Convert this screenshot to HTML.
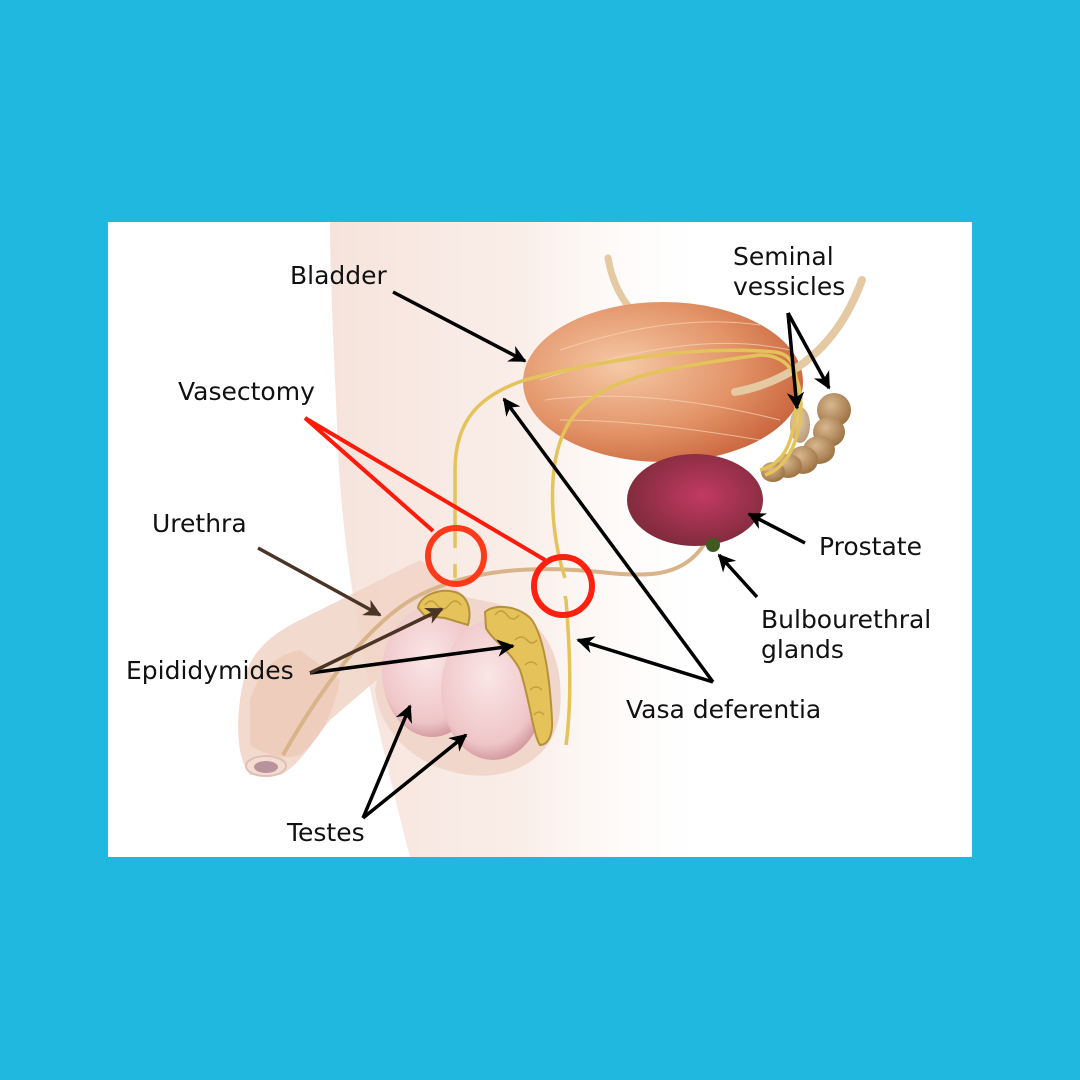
<!DOCTYPE html>
<html><head><meta charset="utf-8"><style>
html,body{margin:0;padding:0;background:#20b8df}
svg{display:block}
text{font-family:"DejaVu Sans","Liberation Sans",sans-serif;font-size:25px;fill:#111}
</style></head><body>
<svg width="1080" height="1080" viewBox="0 0 1080 1080" xmlns="http://www.w3.org/2000/svg">
<defs>
<linearGradient id="body" x1="0" x2="1" y1="0" y2="0">
<stop offset="0" stop-color="#f6e4dc"/><stop offset="0.5" stop-color="#faeee9"/><stop offset="1" stop-color="#ffffff" stop-opacity="0"/></linearGradient>
<radialGradient id="bl" cx="0.35" cy="0.4" r="0.75">
<stop offset="0" stop-color="#f5c9a6"/><stop offset="0.55" stop-color="#e39468"/><stop offset="1" stop-color="#c45a34"/></radialGradient>
<radialGradient id="pr" cx="0.55" cy="0.45" r="0.6">
<stop offset="0" stop-color="#c23a62"/><stop offset="1" stop-color="#7c2a3a"/></radialGradient>
<radialGradient id="ts" cx="0.45" cy="0.4" r="0.65">
<stop offset="0" stop-color="#fbe6e6"/><stop offset="0.75" stop-color="#efc6c8"/><stop offset="1" stop-color="#c98a90"/></radialGradient>
<radialGradient id="sv" cx="0.4" cy="0.35" r="0.7">
<stop offset="0" stop-color="#d8b890"/><stop offset="1" stop-color="#9a6e3e"/></radialGradient>
<marker id="ah" viewBox="0 0 10 10" refX="9" refY="5" markerWidth="5" markerHeight="5" orient="auto"><path d="M0,0 L10,5 L0,10 L3,5z" fill="#000"/></marker>
<marker id="ahb" viewBox="0 0 10 10" refX="9" refY="5" markerWidth="5" markerHeight="5" orient="auto"><path d="M0,0 L10,5 L0,10 L3,5z" fill="#4a3426"/></marker>
</defs>
<rect x="108" y="222" width="864" height="635" fill="#fff"/>
<path d="M330,222 L720,222 L720,857 L410,857 C380,740 345,600 338,450 C334,350 330,280 330,222z" fill="url(#body)"/>
<path d="M240,700 C245,660 260,640 300,620 L420,560 L470,600 L330,720 C310,745 300,765 280,775 L250,775 C238,760 236,730 240,700z" fill="#f1d4c6" opacity="0.85"/>
<path d="M250,700 C260,670 275,655 300,650 L340,680 C335,710 320,740 300,755 C285,760 265,755 250,745z" fill="#ebc0a9" opacity="0.5"/>
<ellipse cx="266" cy="766" rx="20" ry="10" fill="#f4dcd2" stroke="#e0c0b4" stroke-width="2"/>
<ellipse cx="266" cy="767" rx="12" ry="6" fill="#b9939c"/>
<path d="M385,640 C395,600 440,590 480,600 C540,610 565,650 560,710 C555,760 510,780 470,775 C420,770 380,735 375,690z" fill="#f1d6cc"/>
<ellipse cx="432" cy="672" rx="50" ry="65" fill="url(#ts)"/>
<ellipse cx="493" cy="690" rx="52" ry="70" fill="url(#ts)"/>
<g fill="#e6c25a" stroke="#b5923a" stroke-width="2">
<path d="M418,608 C420,595 440,588 455,592 C468,596 472,610 468,625 L445,618 L425,616z"/>
<path d="M485,612 C495,603 520,606 532,620 C545,640 550,680 552,720 C553,735 548,745 540,745 C533,735 530,700 520,670 C510,650 492,640 486,628z"/>
</g>
<g fill="none" stroke="#c59d3e" stroke-width="1.5">
<path d="M425,605 q6,-8 12,0 q6,8 12,0 q6,-8 12,0 M495,615 q6,-8 12,0 q6,8 12,0 M515,640 q6,-6 12,0 q5,6 10,0 M525,665 q6,-6 12,0 M530,690 q6,-6 12,0 M534,715 q5,-6 10,0"/>
</g>
<path d="M283,755 C320,690 370,620 420,595 C470,570 530,565 600,572 C650,578 680,575 700,550 C712,535 718,520 722,505" fill="none" stroke="#d9b48a" stroke-width="4"/>
<path d="M608,258 C615,300 640,330 690,345" fill="none" stroke="#e4c9a2" stroke-width="7" stroke-linecap="round"/>
<ellipse cx="663" cy="382" rx="140" ry="80" fill="url(#bl)"/>
<path d="M540,380 C600,360 700,330 790,350 M545,400 C620,390 700,400 780,420 M560,350 C620,330 690,315 760,325 M560,420 C630,420 700,430 760,440" fill="none" stroke="#f7d6bc" stroke-width="1" opacity="0.7"/>
<path d="M862,280 C840,340 800,380 735,392" fill="none" stroke="#e4c9a2" stroke-width="8" stroke-linecap="round"/>
<ellipse cx="695" cy="500" rx="68" ry="46" fill="url(#pr)"/>
<circle cx="713" cy="545" r="7" fill="#3f5a1e"/>
<g fill="url(#sv)">
<ellipse cx="834" cy="410" rx="17" ry="17"/><ellipse cx="829" cy="432" rx="16" ry="15"/><ellipse cx="819" cy="450" rx="16" ry="14"/><ellipse cx="803" cy="460" rx="15" ry="14"/><ellipse cx="788" cy="466" rx="14" ry="12"/><ellipse cx="773" cy="472" rx="12" ry="10"/>
<ellipse cx="800" cy="425" rx="10" ry="18" opacity="0.7"/>
</g>
<g fill="none" stroke="#e3c35a" stroke-width="3.5">
<path d="M455,548 L455,470 C455,420 480,395 525,380 C600,360 700,345 775,352 C795,355 800,370 795,420 C790,450 780,465 760,470"/>
<path d="M455,578 L455,564"/>
<path d="M566,745 C572,700 570,650 566,600 L565,596"/>
<path d="M565,578 C552,540 545,470 565,430 C590,380 650,370 760,355 C790,355 805,380 800,420 C795,455 780,470 765,475"/>
</g>
<g stroke="#ff1a0a" stroke-width="4" fill="none">
<line x1="305" y1="418" x2="433" y2="531"/>
<line x1="305" y1="418" x2="545" y2="560"/>
</g>
<circle cx="456" cy="556" r="28" fill="none" stroke="#ff3a1a" stroke-width="6"/>
<circle cx="563" cy="586" r="29" fill="none" stroke="#ff2010" stroke-width="6"/>
<g stroke="#000" stroke-width="3.5" fill="none" marker-end="url(#ah)">
<line x1="393" y1="292" x2="525" y2="361"/>
<line x1="713" y1="682" x2="504" y2="399"/>
<line x1="713" y1="682" x2="578" y2="640"/>
<line x1="788" y1="313" x2="797" y2="408"/>
<line x1="788" y1="313" x2="829" y2="388"/>
<line x1="805" y1="543" x2="749" y2="514"/>
<line x1="757" y1="597" x2="719" y2="555"/>
<line x1="310" y1="673" x2="513" y2="646"/>
<line x1="363" y1="818" x2="410" y2="706"/>
<line x1="363" y1="818" x2="466" y2="735"/>
</g>
<g stroke="#4a3426" stroke-width="3.5" fill="none" marker-end="url(#ahb)">
<line x1="258" y1="548" x2="380" y2="615"/>
<line x1="310" y1="673" x2="442" y2="609"/>
</g>
<text x="290" y="284">Bladder</text>
<text x="733" y="265">Seminal</text>
<text x="733" y="295">vessicles</text>
<text x="178" y="400">Vasectomy</text>
<text x="152" y="532">Urethra</text>
<text x="819" y="555">Prostate</text>
<text x="761" y="628">Bulbourethral</text>
<text x="761" y="658">glands</text>
<text x="126" y="679">Epididymides</text>
<text x="626" y="718">Vasa deferentia</text>
<text x="287" y="841">Testes</text>
</svg>
</body></html>
